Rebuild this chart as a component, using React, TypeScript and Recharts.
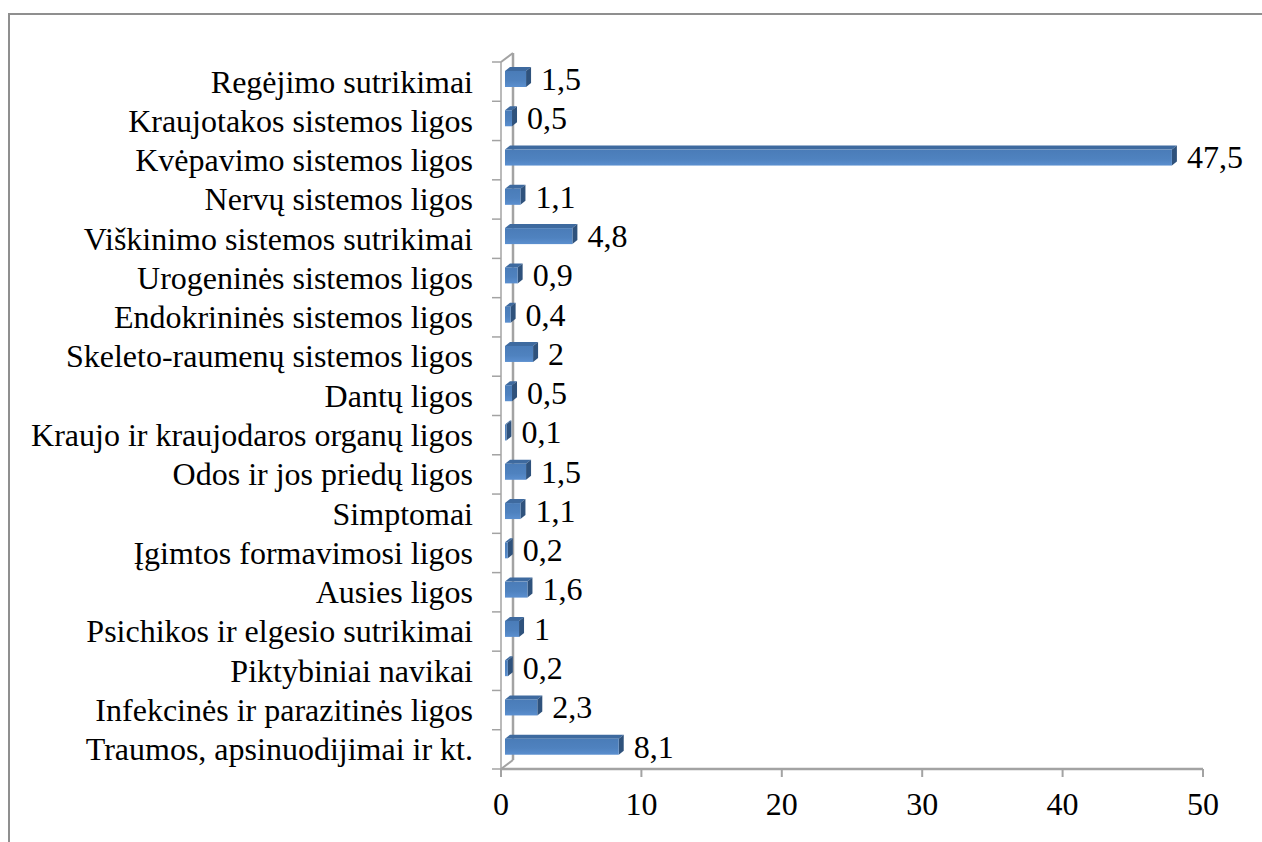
import React from "react";
import { BarChart, Bar, XAxis, YAxis, LabelList } from "recharts";

const categories = [
  "Regėjimo sutrikimai",
  "Kraujotakos sistemos ligos",
  "Kvėpavimo sistemos ligos",
  "Nervų sistemos ligos",
  "Viškinimo sistemos sutrikimai",
  "Urogeninės sistemos ligos",
  "Endokrininės sistemos ligos",
  "Skeleto-raumenų sistemos ligos",
  "Dantų ligos",
  "Kraujo ir kraujodaros organų ligos",
  "Odos ir jos priedų ligos",
  "Simptomai",
  "Įgimtos formavimosi ligos",
  "Ausies ligos",
  "Psichikos ir elgesio sutrikimai",
  "Piktybiniai navikai",
  "Infekcinės ir parazitinės ligos",
  "Traumos, apsinuodijimai ir kt.",
];
const values = [1.5, 0.5, 47.5, 1.1, 4.8, 0.9, 0.4, 2, 0.5, 0.1, 1.5, 1.1, 0.2, 1.6, 1, 0.2, 2.3, 8.1];
const xTicks = [0, 10, 20, 30, 40, 50];

const data = categories.map((name, i) => ({ name, value: values[i] }));

const W = 1262;
const H = 842;
const M_TOP = 62;
const M_RIGHT = 59;
const Y_W = 501;
const X_H = 73;
const PLOT_LEFT = Y_W;
const PLOT_TOP = M_TOP;
const PLOT_BOTTOM = H - X_H;
const BAND = (PLOT_BOTTOM - PLOT_TOP) / categories.length;
const DX = 12;
const DY = 9;
const AXIS = "#a3a3a3";
const FONT = "Liberation Serif, Tinos, Times New Roman, serif";
const FS = 32;

const BAR_SHIFT_X = 4;
const BAR_SHIFT_Y = -3;
const D3 = 5;
const DT = 4;

const Bar3D = (props: any) => {
  const { x, y, width, height } = props;
  const x0 = x + BAR_SHIFT_X;
  const y0 = y + BAR_SHIFT_Y;
  const w = Math.max(width, 0);
  const h = height;
  return (
    <g>
      <polygon
        points={`${x0},${y0} ${x0 + D3},${y0 - DT} ${x0 + w + D3},${y0 - DT} ${x0 + w},${y0}`}
        fill="#3e6a9f"
      />
      <polygon
        points={`${x0 + w},${y0} ${x0 + w + D3},${y0 - DT} ${x0 + w + D3},${y0 + h - DT} ${x0 + w},${y0 + h}`}
        fill="#2f527c"
      />
      <rect x={x0} y={y0} width={w} height={h} fill="url(#barGrad)" />
    </g>
  );
};

const fmt = (v: number) => String(v).replace(".", ",");

const ValueLabel = (props: any) => {
  const { x, y, width, height, value } = props;
  return (
    <text
      x={x + width + BAR_SHIFT_X + D3 + 10}
      y={y + height / 2 + BAR_SHIFT_Y}
      dy="0.34em"
      fill="#000"
      textAnchor="start"
      style={{ fontSize: FS, fontFamily: FONT }}
    >
      {fmt(value)}
    </text>
  );
};

const CatTick = (props: any) => {
  const { y, payload, index } = props;
  const top = y - BAND / 2;
  return (
    <g>
      <line x1={PLOT_LEFT - 9} x2={PLOT_LEFT} y1={top} y2={top} stroke={AXIS} strokeWidth={1.5} />
      {index === categories.length - 1 && (
        <line x1={PLOT_LEFT - 9} x2={PLOT_LEFT} y1={y + BAND / 2} y2={y + BAND / 2} stroke={AXIS} strokeWidth={1.5} />
      )}
      <text
        x={PLOT_LEFT - 28}
        y={y}
        dy="0.34em"
        textAnchor="end"
        fill="#000"
        style={{ fontSize: FS, fontFamily: FONT }}
      >
        {payload.value}
      </text>
    </g>
  );
};

export default function App() {
  return (
    <div style={{ position: "fixed", left: 0, top: 0, width: W, height: H, overflow: "hidden", background: "#fff", fontFamily: FONT }}>
      <div
        style={{
          position: "absolute",
          left: 8,
          top: 13,
          width: 1400,
          height: 1000,
          borderLeft: "2px solid #8f8f8f",
          borderTop: "2px solid #8f8f8f",
        }}
      />
      <svg width={W} height={H} style={{ position: "absolute", left: 0, top: 0 }}>
        <line x1={PLOT_LEFT + DX} y1={PLOT_TOP - DY} x2={PLOT_LEFT + DX} y2={PLOT_BOTTOM - DY} stroke={AXIS} strokeWidth={2.5} />
        <line x1={PLOT_LEFT} y1={PLOT_TOP} x2={PLOT_LEFT + DX} y2={PLOT_TOP - DY} stroke={AXIS} strokeWidth={2} />
        <line x1={PLOT_LEFT} y1={PLOT_BOTTOM} x2={PLOT_LEFT + DX} y2={PLOT_BOTTOM - DY} stroke={AXIS} strokeWidth={2} />
      </svg>
      <div style={{ position: "absolute", left: 0, top: 0 }}>
        <BarChart
          width={W}
          height={H}
          data={data}
          layout="vertical"
          margin={{ top: M_TOP, right: M_RIGHT, left: 0, bottom: 0 }}
          style={{ fontFamily: FONT }}
        >
          <defs>
            <linearGradient id="barGrad" x1="0" y1="0" x2="0" y2="1">
              <stop offset="0%" stopColor="#4a7cb8" />
              <stop offset="60%" stopColor="#4f82bf" />
              <stop offset="100%" stopColor="#5b8fcf" />
            </linearGradient>
          </defs>
          <XAxis
            type="number"
            domain={[0, 50]}
            ticks={xTicks}
            height={X_H}
            axisLine={{ stroke: AXIS, strokeWidth: 2.5 }}
            tickLine={{ stroke: AXIS, strokeWidth: 2 }}
            tickSize={8}
            tickMargin={15}
            tick={{ fontSize: FS, fill: "#000", fontFamily: FONT }}
            allowDataOverflow
          />
          <YAxis
            type="category"
            dataKey="name"
            width={Y_W}
            axisLine={{ stroke: AXIS, strokeWidth: 1.5 }}
            tickLine={false}
            tickSize={0}
            tick={<CatTick />}
            interval={0}
          />
          <Bar dataKey="value" barSize={16} shape={<Bar3D />} isAnimationActive={false}>
            <LabelList dataKey="value" content={<ValueLabel />} />
          </Bar>
        </BarChart>
      </div>
    </div>
  );
}
